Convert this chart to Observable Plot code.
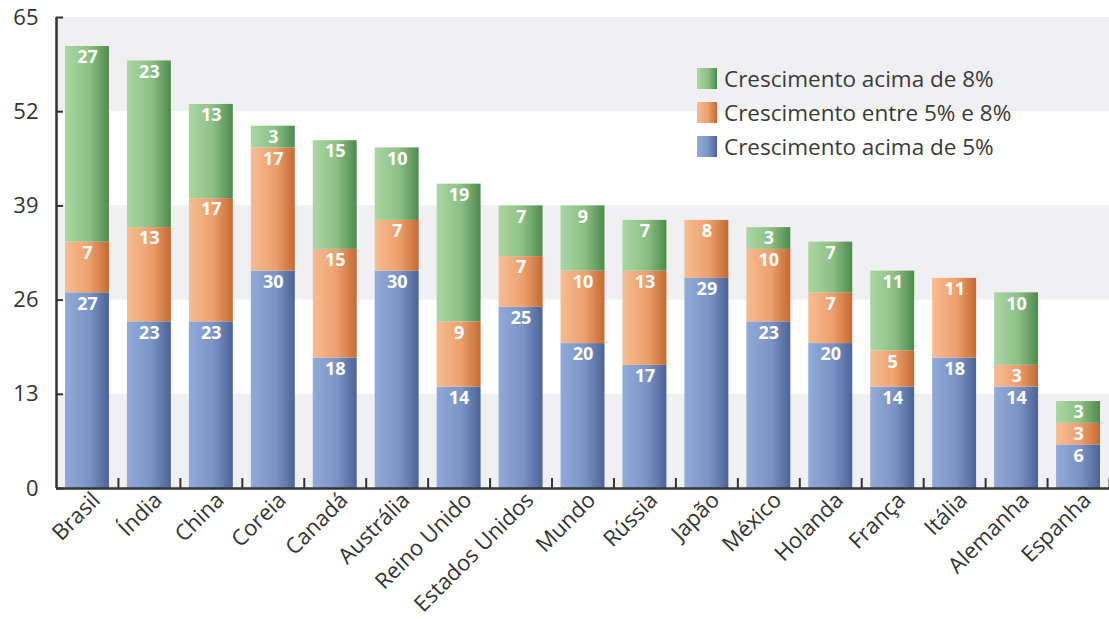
<!DOCTYPE html>
<html>
<head>
<meta charset="utf-8">
<script src="https://cdn.jsdelivr.net/npm/d3@7"></script>
<script src="https://cdn.jsdelivr.net/npm/@observablehq/plot@0.6"></script>
<style>
  html, body { margin: 0; padding: 0; background: white; }
  #wrap { position: relative; width: 1109px; height: 619px; overflow: hidden; }
  #legend { position: absolute; left: 697px; top: 61px; font-family: 'Open Sans', sans-serif; font-size: 22.5px; color: #3a3a3a; }
  #legend .item { display: flex; align-items: center; height: 34px; }
  #legend .sw { width: 20px; height: 21px; margin-right: 7px; }
</style>
</head>
<body>
<div id="wrap"><div id="legend"></div></div>
<script>
const categories = ["Brasil","Índia","China","Coreia","Canadá","Austrália","Reino Unido","Estados Unidos","Mundo","Rússia","Japão","México","Holanda","França","Itália","Alemanha","Espanha"];
const acima5   = [27,23,23,30,18,30,14,25,20,17,29,23,20,14,18,14,6];
const entre5e8 = [7,13,17,17,15,7,9,7,10,13,8,10,7,5,11,3,3];
const acima8   = [27,23,13,3,15,10,19,7,9,7,0,3,7,11,0,10,3];
const seriesNames = ["Crescimento acima de 5%","Crescimento entre 5% e 8%","Crescimento acima de 8%"];
const legendOrder = ["Crescimento acima de 8%","Crescimento entre 5% e 8%","Crescimento acima de 5%"];
const yTicks = [0,13,26,39,52,65];

const gradients = {
  "Crescimento acima de 5%": ["gBlue", "#91aad8", "#7b94c6", "#4c6495"],
  "Crescimento entre 5% e 8%": ["gOrange", "#f6bd92", "#eda06e", "#c46a33"],
  "Crescimento acima de 8%": ["gGreen", "#abd6a3", "#8dc085", "#4f8a50"]
};

const W = 1109, H = 619, mL = 56, mR = 0, mT = 17, mB = 131;
const step = (W - mL - mR) / categories.length;

const series = [acima5, entre5e8, acima8];
const rows = categories.flatMap((c, i) => series.map((s, k) => ({country: c, series: seriesNames[k], value: s[i]})));
const bandRows = [];
for (let i = 0; i + 1 < yTicks.length; i += 2) bandRows.push({y1: yTicks[i], y2: yTicks[i + 1]});

const svg = Plot.plot({
  width: W, height: H,
  marginLeft: mL, marginRight: mR, marginTop: mT, marginBottom: mB,
  x: {domain: categories, padding: 0, round: false, label: null},
  y: {domain: [yTicks[0], yTicks[yTicks.length - 1]], label: null},
  color: {domain: seriesNames, range: seriesNames.map(s => `url(#${gradients[s][0]})`)},
  style: {fontFamily: "'Open Sans', sans-serif", color: "#333", background: "white", overflow: "visible"},
  marks: [
    Plot.rect(bandRows, {y1: "y1", y2: "y2", fill: "#f0f0f2"}),
    Plot.barY(rows, {x: "country", y: "value", fill: "series", insetLeft: 9, insetRight: 9}),
    Plot.text(rows, Plot.stackY2({x: "country", y: "value", z: "series", text: d => d.value, filter: d => d.value > 0, dy: 11, fill: "white", fontWeight: "bold", fontSize: 18})),
    Plot.ruleY([0], {stroke: "#333", strokeWidth: 2.5}),
    Plot.ruleX([categories[0]], {y1: yTicks[0], y2: yTicks[yTicks.length - 1], dx: -step / 2, stroke: "#333", strokeWidth: 2.5}),
    Plot.axisY({ticks: yTicks, tickSize: 7, dx: 7, tickFormat: () => "", stroke: "#333", strokeWidth: 2, label: null}),
    Plot.axisY({ticks: yTicks, tickSize: 0, tickPadding: 18, fontSize: 22, fill: "#333", label: null}),
    Plot.axisX({tickSize: 10, dx: step / 2, dy: -10, tickFormat: () => "", stroke: "#333", strokeWidth: 2, label: null}),
    Plot.axisX({tickSize: 0, tickRotate: -45, tickPadding: 8, dx: 9, fontSize: 22, fill: "#333", label: null})
  ]
});

const defs = d3.select(svg).insert("defs", ":first-child");
for (const s of seriesNames) {
  const [id, c0, c1, c2] = gradients[s];
  const g = defs.append("linearGradient").attr("id", id).attr("x1", 0).attr("x2", 1).attr("y1", 0).attr("y2", 0);
  g.append("stop").attr("offset", "0%").attr("stop-color", c0);
  g.append("stop").attr("offset", "55%").attr("stop-color", c1);
  g.append("stop").attr("offset", "100%").attr("stop-color", c2);
}

const wrap = document.getElementById("wrap");
wrap.insertBefore(svg, wrap.firstChild);

const legend = d3.select("#legend");
for (const s of legendOrder) {
  const [, c0, c1, c2] = gradients[s];
  const item = legend.append("div").attr("class", "item");
  item.append("div").attr("class", "sw").style("background", `linear-gradient(to right, ${c0}, ${c1} 55%, ${c2})`);
  item.append("span").text(s);
}
</script>
</body>
</html>
